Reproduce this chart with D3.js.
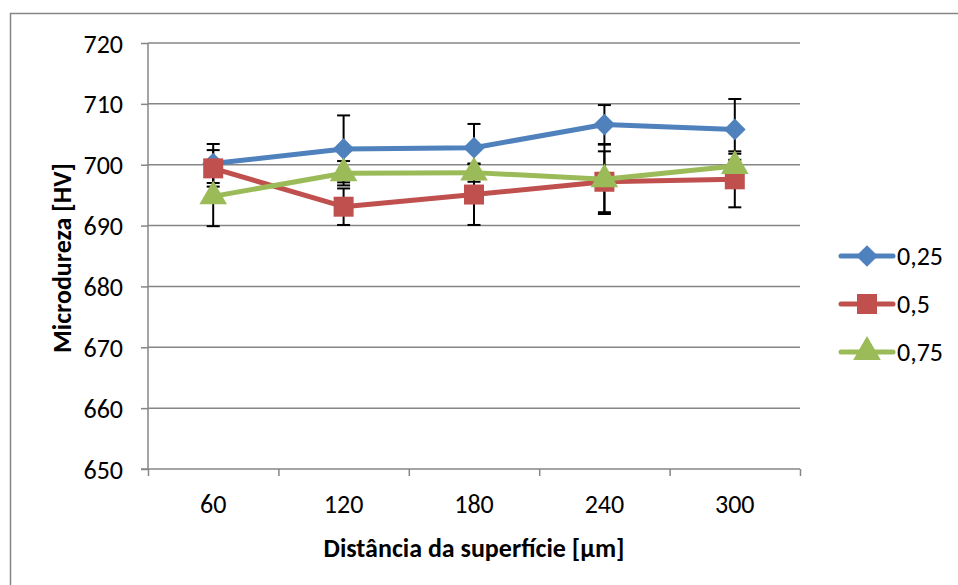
<!DOCTYPE html>
<html>
<head>
<meta charset="utf-8">
<script src="https://cdn.jsdelivr.net/npm/d3@7"></script>
<style>
  body { margin: 0; background: #fff; }
  text { font-family: Carlito, Calibri, Lato, sans-serif; fill: #000; }
</style>
</head>
<body>
<svg class="chart" width="958" height="585"></svg>
<script>
// chart data
var distances = ["60", "120", "180", "240", "300"];
var seriesNames = ["0,25", "0,5", "0,75"];
var hv025 = [700.2, 702.6, 702.8, 706.6, 705.8];
var err025 = [3.2, 5.5, 3.9, 3.2, 5.0];
var hv05 = [699.4, 693.1, 695.1, 697.2, 697.6];
var err05 = [3.0, 3.0, 5.0, 5.0, 4.6];
var hv075 = [694.8, 698.6, 698.7, 697.6, 699.8];
var err075 = [4.9, 2.0, 1.5, 5.7, 2.0];
var yTicks = [650, 660, 670, 680, 690, 700, 710, 720];

var colors = ["#4F81BD", "#C0504D", "#9BBB59"];
var markers = [d3.symbolDiamond2, d3.symbolSquare, d3.symbolTriangle];

var series = [
  { name: seriesNames[0], values: hv025, err: err025 },
  { name: seriesNames[1], values: hv05, err: err05 },
  { name: seriesNames[2], values: hv075, err: err075 }
];

var svg = d3.select(".chart");
var plotL = 148, plotR = 800, plotT = 43, plotB = 469;
var grey = "#868686";
var fs = "26px";

// outer frame of the chart (only left + top visible)
svg.append("path")
   .attr("d", "M10.5,585 L10.5,13.5 L958,13.5")
   .attr("fill", "none").attr("stroke", grey).attr("stroke-width", 1.5);

var x = d3.scaleBand().domain(distances).range([plotL, plotR]).padding(0);
var cx = (d) => x(d) + x.bandwidth() / 2;
var y = d3.scaleLinear().domain([650, 720]).range([plotB, plotT]);

// gridlines
svg.append("g").selectAll("line")
   .data(yTicks.slice(1))
   .enter().append("line")
   .attr("x1", plotL).attr("x2", plotR)
   .attr("y1", (d) => y(d)).attr("y2", (d) => y(d))
   .attr("stroke", grey).attr("stroke-width", 1.5);

// y axis
var yAxis = svg.append("g")
   .attr("transform", "translate(" + plotL + ",0)")
   .call(d3.axisLeft(y).tickValues(yTicks).tickSize(7).tickPadding(18));
yAxis.selectAll("line, path").attr("stroke", grey).attr("stroke-width", 1.5);
yAxis.select("path").attr("d", "M0," + plotT + "V" + plotB);
yAxis.selectAll("text")
   .attr("dy", null).attr("dominant-baseline", "central")
   .style("font-size", fs).style("font-family", "Carlito, Calibri, Lato, sans-serif");

// x axis: ticks between the categories, labels in the middle
var xb = d3.scaleLinear().domain([0, distances.length]).range([plotL, plotR]);
var xAxis = svg.append("g")
   .attr("transform", "translate(0," + plotB + ")")
   .call(d3.axisBottom(xb).ticks(distances.length).tickSize(7).tickFormat(""));
xAxis.selectAll("line, path").attr("stroke", grey).attr("stroke-width", 1.5);
xAxis.select("path").attr("d", "M" + (plotL - 7) + ",0H" + plotR);

svg.append("g").selectAll("text")
   .data(distances)
   .enter().append("text")
   .attr("x", (d) => cx(d))
   .attr("y", plotB + 35)
   .attr("text-anchor", "middle")
   .attr("dominant-baseline", "central")
   .style("font-size", fs)
   .text((d) => d);

// axis titles
svg.append("text")
   .attr("x", 474).attr("y", 548)
   .attr("text-anchor", "middle").attr("dominant-baseline", "central")
   .style("font-size", fs).style("font-weight", "bold")
   .text("Distância da superfície [µm]");

svg.append("text")
   .attr("transform", "translate(62,258) rotate(-90)")
   .attr("text-anchor", "middle").attr("dominant-baseline", "central")
   .style("font-size", fs).style("font-weight", "bold")
   .text("Microdureza [HV]");

// error bars first, markers sit on top of them
var errG = svg.append("g");
series.forEach(function (s) {
  s.values.forEach(function (v, i) {
    var px = cx(distances[i]);
    errG.append("line")
        .attr("x1", px).attr("x2", px)
        .attr("y1", y(v + s.err[i])).attr("y2", y(v - s.err[i]))
        .attr("stroke", "#000").attr("stroke-width", 2);
    [v + s.err[i], v - s.err[i]].forEach(function (e) {
      errG.append("line")
          .attr("x1", px - 6.5).attr("x2", px + 6.5)
          .attr("y1", y(e)).attr("y2", y(e))
          .attr("stroke", "#000").attr("stroke-width", 2);
    });
  });
});

var line = d3.line()
   .x((d, i) => cx(distances[i]))
   .y((d) => y(d));

var markerSizes = [300, 400, 330];

series.forEach(function (s, k) {
  var g = svg.append("g");
  g.append("path")
   .attr("d", line(s.values))
   .attr("fill", "none")
   .attr("stroke", colors[k])
   .attr("stroke-width", 5)
   .attr("stroke-linejoin", "round")
   .attr("stroke-linecap", "round");
  g.selectAll("path.mk")
   .data(s.values)
   .enter().append("path")
   .attr("class", "mk")
   .attr("d", d3.symbol().type(markers[k]).size(markerSizes[k]))
   .attr("transform", (d, i) => "translate(" + cx(distances[i]) + "," + y(d) + ")")
   .attr("fill", colors[k]);
});

// legend
var legendY = [256, 304, 352];
var legend = svg.append("g");
series.forEach(function (s, k) {
  legend.append("line")
     .attr("x1", 841).attr("x2", 893)
     .attr("y1", legendY[k]).attr("y2", legendY[k])
     .attr("stroke", colors[k]).attr("stroke-width", 5)
     .attr("stroke-linecap", "round");
  legend.append("path")
     .attr("d", d3.symbol().type(markers[k]).size(markerSizes[k]))
     .attr("transform", "translate(867," + legendY[k] + ")")
     .attr("fill", colors[k]);
  legend.append("text")
     .attr("x", 897).attr("y", legendY[k])
     .attr("dominant-baseline", "central")
     .style("font-size", fs)
     .text(s.name);
});
</script>
</body>
</html>
